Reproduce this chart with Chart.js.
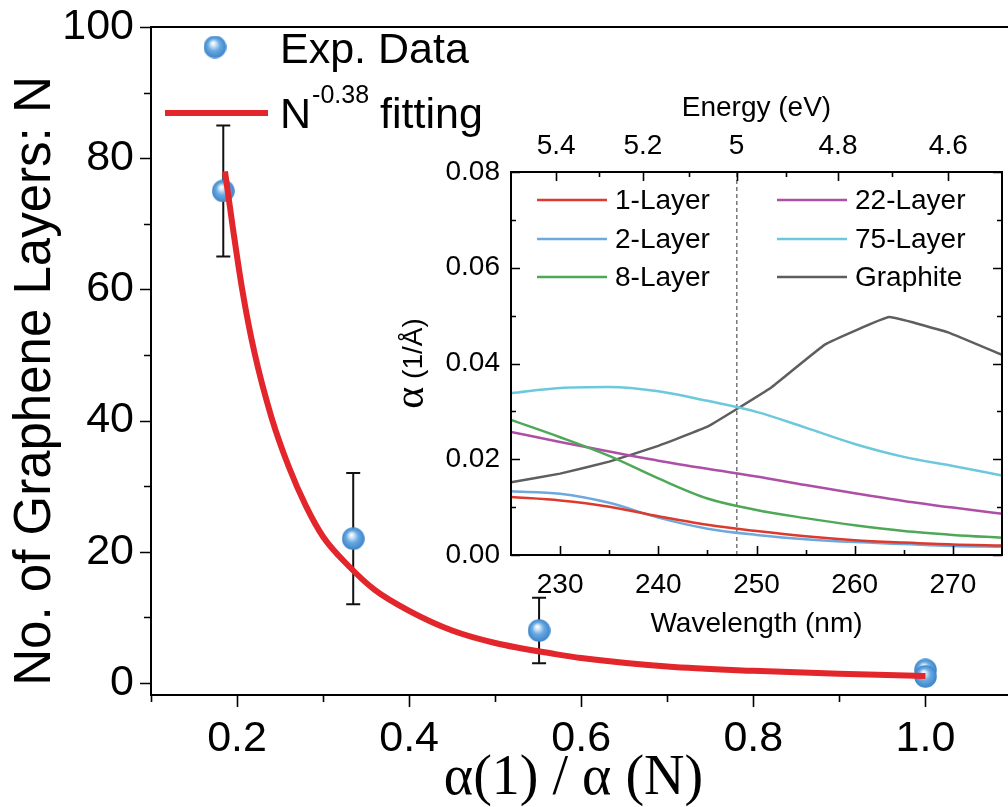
<!DOCTYPE html>
<html>
<head>
<meta charset="utf-8">
<script src="https://cdn.jsdelivr.net/npm/chart.js@4.4.1/dist/chart.umd.min.js"></script>
<style>
  html, body { margin:0; padding:0; background:#fff; }
  #wrap { position:relative; width:1008px; height:807px; overflow:hidden; }
  #main { position:absolute; left:0; top:0; }
  #inset { position:absolute; left:380px; top:80px; }
</style>
</head>
<body>
<div id="wrap">
  <canvas id="main" width="1008" height="807"></canvas>
  <canvas id="inset" width="628" height="570"></canvas>
</div>
<script>
/* main plot data */
const ratio = [0.184, 0.335, 0.551, 1.0, 1.0];
const layers = [75, 22, 8, 2, 1];
const layersErr = [10, 10, 5, 0, 0];

const fitRatio  = [0.186, 0.195, 0.206, 0.22, 0.24, 0.26, 0.28, 0.30, 0.33, 0.36, 0.40, 0.45, 0.50, 0.57, 0.60, 0.70, 0.80, 0.90, 1.00];
const fitLayers = [78, 69.5, 60, 50.5, 40.5, 33, 27, 22.3, 17.8, 14.2, 11.0, 8.0, 6.1, 4.4, 3.8, 2.5, 1.85, 1.4, 1.05];

const xMajor = [0.2, 0.4, 0.6, 0.8, 1.0];
const xMinor = [0.1, 0.3, 0.5, 0.7, 0.9];
const yMajor = [0, 20, 40, 60, 80, 100];
const yMinor = [10, 30, 50, 70, 90];

/* inset data */
const wavelength = [225, 230, 235, 240, 245, 250, 255, 260, 265, 270, 275];
const alpha1L  = [0.0121, 0.0114, 0.0101, 0.0081, 0.0063, 0.0050, 0.0039, 0.0031, 0.0026, 0.0022, 0.0020];
const alpha2L  = [0.0133, 0.0128, 0.0109, 0.0078, 0.0055, 0.0042, 0.0033, 0.0027, 0.0023, 0.0019, 0.0017];
const alpha8L  = [0.0282, 0.0246, 0.0207, 0.0160, 0.0118, 0.0094, 0.0077, 0.0062, 0.0050, 0.0042, 0.0036];
const alpha22L = [0.0257, 0.0236, 0.0216, 0.0197, 0.0180, 0.0164, 0.0146, 0.0129, 0.0113, 0.0099, 0.0086];
const alpha75L = [0.0338, 0.0349, 0.0351, 0.0342, 0.0322, 0.0299, 0.0266, 0.0232, 0.0205, 0.0186, 0.0166];
const graphiteWl = [225, 230, 235, 240, 245, 248, 251.5, 257, 263.5, 269.5, 275];
const alphaGraphite = [0.0152, 0.0170, 0.0195, 0.0228, 0.0268, 0.0305, 0.0350, 0.0440, 0.0497, 0.0465, 0.0418];

const wlMajor = [230, 240, 250, 260, 270];
const wlMinor = [235, 245, 255, 265];
const alphaMajor = [0, 0.02, 0.04, 0.06, 0.08];
const alphaMinor = [0.01, 0.03, 0.05, 0.07];
const energyMajor = [5.4, 5.2, 5.0, 4.8, 4.6];
const energyLabels = ["5.4", "5.2", "5", "4.8", "4.6"];
const energyMinor = [5.3, 5.1, 4.9, 4.7];
const cutWl = 248;   // 5 eV marker
const HC = 1239.84;  // eV*nm

const SANS = "'Liberation Sans', Arial, sans-serif";
const SERIF = "'Liberation Serif', 'Times New Roman', serif";
Chart.defaults.color = "#000";
Chart.defaults.font.family = SANS;

/* shaded sphere marker */
const sphere = document.createElement("canvas");
sphere.width = 23; sphere.height = 23;
(function(){
  const c = sphere.getContext("2d");
  const g = c.createRadialGradient(9.5, 7.5, 0.5, 11.5, 11.5, 11.5);
  g.addColorStop(0, "#ffffff");
  g.addColorStop(0.18, "#cfe5f8");
  g.addColorStop(0.5, "#6aaae2");
  g.addColorStop(1, "#3a82c8");
  c.fillStyle = g;
  c.beginPath(); c.arc(11.5, 11.5, 11.3, 0, Math.PI*2); c.fill();
})();

function marks(ctx, scale, values, len, side, out){
  const a = scale.chart.chartArea;
  const d = out ? -1 : 1;
  ctx.beginPath();
  values.forEach(v=>{
    const p = Math.round(scale.getPixelForValue(v)) + 0.5;
    if(side === "left"){ ctx.moveTo(a.left, p); ctx.lineTo(a.left + d*len, p); }
    if(side === "right"){ ctx.moveTo(a.right, p); ctx.lineTo(a.right - d*len, p); }
    if(side === "bottom"){ ctx.moveTo(p, a.bottom); ctx.lineTo(p, a.bottom - d*len); }
    if(side === "top"){ ctx.moveTo(p, a.top); ctx.lineTo(p, a.top + d*len); }
  });
  ctx.stroke();
}
function noPad(s){ s.paddingTop = 0; s.paddingBottom = 0; s.paddingLeft = 0; s.paddingRight = 0; }

/* MAIN CHART */
const mainDecor = {
  id: "mainDecor",
  beforeDatasetsDraw(chart){
    const {ctx, scales:{x, y}} = chart;
    ctx.save();
    ctx.strokeStyle = "#111"; ctx.lineWidth = 2;
    ratio.forEach((r, i)=>{
      if(!layersErr[i]) return;
      const px = x.getPixelForValue(r);
      const t = y.getPixelForValue(layers[i] + layersErr[i]);
      const b = y.getPixelForValue(layers[i] - layersErr[i]);
      ctx.beginPath();
      ctx.moveTo(px, t); ctx.lineTo(px, b);
      ctx.moveTo(px - 7, t); ctx.lineTo(px + 7, t);
      ctx.moveTo(px - 7, b); ctx.lineTo(px + 7, b);
      ctx.stroke();
    });
    ctx.restore();
  },
  afterDraw(chart){
    const {ctx, chartArea:a, scales:{x, y}} = chart;
    ctx.save();
    ctx.strokeStyle = "#000"; ctx.lineWidth = 2;
    // frame runs on past the right edge of the picture
    ctx.beginPath();
    ctx.moveTo(a.left - 1, a.top); ctx.lineTo(chart.width, a.top);
    ctx.moveTo(a.right - 1, a.bottom); ctx.lineTo(chart.width, a.bottom);
    ctx.stroke();
    ctx.lineWidth = 1.6;
    marks(ctx, y, yMajor, 11, "left", true);
    marks(ctx, y, yMinor, 7, "left", true);
    marks(ctx, x, xMajor, 12, "bottom", true);
    marks(ctx, x, xMinor, 7, "bottom", true);

    // y title
    ctx.fillStyle = "#000";
    ctx.save();
    ctx.translate(36, 381);
    ctx.rotate(-Math.PI/2);
    ctx.font = "51px " + SANS;
    ctx.textAlign = "center"; ctx.textBaseline = "middle";
    ctx.fillText("No. of Graphene Layers: N", 0, 0);
    ctx.restore();

    // legend
    ctx.drawImage(sphere, 215 - 11.5, 47 - 11.5);
    ctx.textBaseline = "alphabetic";
    ctx.font = "43px " + SANS;
    ctx.fillText("Exp. Data", 280, 63);
    ctx.strokeStyle = "#e2262b"; ctx.lineWidth = 6;
    ctx.beginPath(); ctx.moveTo(165, 113); ctx.lineTo(268, 113); ctx.stroke();
    ctx.fillText("N", 280, 128);
    const w = ctx.measureText("N").width;
    ctx.font = "25px " + SANS;
    ctx.fillText("-0.38", 280 + w + 1, 103);
    const w2 = ctx.measureText("-0.38").width;
    ctx.font = "43px " + SANS;
    ctx.fillText("fitting", 280 + w + w2 + 12, 128);
    ctx.restore();
  }
};

new Chart(document.getElementById("main"), {
  type: "line",
  data: {
    datasets: [
      {
        label: "fit",
        data: fitRatio.map((r, i)=>({x:r, y:fitLayers[i]})),
        borderColor: "#e2262b", borderWidth: 6,
        pointRadius: 0, cubicInterpolationMode: "monotone", fill: false
      },
      {
        label: "Exp. Data",
        data: ratio.map((r, i)=>({x:r, y:layers[i]})),
        showLine: false, pointStyle: sphere, pointRadius: 11
      }
    ]
  },
  options: {
    responsive: false, animation: false, devicePixelRatio: 1, events: [],
    layout: { padding: { top: 27, right: 0, left: 0, bottom: 0 } },
    plugins: { legend: { display: false }, tooltip: { enabled: false } },
    scales: {
      x: {
        type: "linear", min: 0.1, max: 1.082,
        afterFit(s){ s.height = 112; noPad(s); },
        afterBuildTicks(s){ s.ticks = xMajor.map(v=>({value:v})); },
        grid: { drawOnChartArea: false, drawTicks: false },
        border: { color: "#000", width: 2 },
        ticks: { autoSkip: false, maxRotation: 0, padding: 18, font: { size: 43 },
                 callback: v => v.toFixed(1) },
        title: { display: true, text: "α(1) / α (N)", font: { size: 56, family: SERIF, lineHeight: 1 },
                 padding: { top: 0, bottom: 0 } }
      },
      y: {
        type: "linear", min: -1.83, max: 100,
        afterFit(s){ s.width = 151; noPad(s); },
        afterBuildTicks(s){ s.ticks = yMajor.map(v=>({value:v})); },
        grid: { drawOnChartArea: false, drawTicks: false },
        border: { color: "#000", width: 2 },
        ticks: { autoSkip: false, padding: 17, font: { size: 43 } }
      }
    }
  },
  plugins: [mainDecor]
});

/* INSET CHART */
const insetSeries = [
  { label: "1-Layer",  x: wavelength, y: alpha1L,  color: "#dc3a2c" },
  { label: "2-Layer",  x: wavelength, y: alpha2L,  color: "#6ea8dc" },
  { label: "8-Layer",  x: wavelength, y: alpha8L,  color: "#4fa858" },
  { label: "22-Layer", x: wavelength, y: alpha22L, color: "#ae4fa6" },
  { label: "75-Layer", x: wavelength, y: alpha75L, color: "#6cc8dc" },
  { label: "Graphite", x: graphiteWl, y: alphaGraphite, color: "#5e5e5e" }
];

const insetDecor = {
  id: "insetDecor",
  afterDraw(chart){
    const {ctx, chartArea:a, scales:{x, xTop, y}} = chart;
    ctx.save();
    ctx.strokeStyle = "#000"; ctx.lineWidth = 2;
    ctx.strokeRect(a.left, a.top, a.right - a.left, a.bottom - a.top);
    ctx.lineWidth = 1.6;
    marks(ctx, y, alphaMajor, 9, "left", false);
    marks(ctx, y, alphaMinor, 5, "left", false);
    marks(ctx, y, alphaMajor, 9, "right", false);
    marks(ctx, y, alphaMinor, 5, "right", false);
    marks(ctx, x, wlMajor, 9, "bottom", false);
    marks(ctx, x, wlMinor, 5, "bottom", false);
    marks(ctx, xTop, energyMajor.map(e=>HC/e), 9, "top", false);
    marks(ctx, xTop, energyMinor.map(e=>HC/e), 5, "top", false);

    // y title: serif alpha + sans unit
    ctx.fillStyle = "#000";
    ctx.save();
    ctx.translate(32, (a.top + a.bottom) / 2);
    ctx.rotate(-Math.PI/2);
    ctx.textBaseline = "alphabetic";
    ctx.font = "42px " + SERIF;
    const wa = ctx.measureText("α").width;
    ctx.font = "28px " + SANS;
    const wu = ctx.measureText(" (1/Å)").width;
    const x0 = -(wa + wu) / 2;
    ctx.font = "42px " + SERIF;
    ctx.fillText("α", x0, 11);
    ctx.font = "28px " + SANS;
    ctx.fillText(" (1/Å)", x0 + wa, 10);
    ctx.restore();

    // legend, two columns
    ctx.font = "28px " + SANS;
    ctx.textBaseline = "middle";
    const cols = [157, 397], rows = [120, 159, 197];
    chart.data.datasets.forEach((ds, i)=>{
      if(ds.label === "cut") return;
      const cx = cols[Math.floor(i / 3)], cy = rows[i % 3];
      ctx.strokeStyle = ds.borderColor; ctx.lineWidth = 2.5;
      ctx.beginPath(); ctx.moveTo(cx, cy); ctx.lineTo(cx + 70, cy); ctx.stroke();
      ctx.fillStyle = "#000";
      ctx.fillText(ds.label, cx + 78, cy + 1);
    });
    ctx.restore();
  }
};

const insetDatasets = insetSeries.map(s=>({
  label: s.label,
  data: s.x.map((w, i)=>({x:w, y:s.y[i]})),
  borderColor: s.color, borderWidth: 2.5, pointRadius: 0,
  tension: s.label === "Graphite" ? 0.08 : 0,
  cubicInterpolationMode: s.label === "Graphite" ? "default" : "monotone",
  fill: false
}));
insetDatasets.push({
  label: "cut",
  data: [{x:cutWl, y:0}, {x:cutWl, y:0.08}],
  borderColor: "#333", borderWidth: 1, borderDash: [4, 3], pointRadius: 0
});

new Chart(document.getElementById("inset"), {
  type: "line",
  data: { datasets: insetDatasets },
  options: {
    responsive: false, animation: false, devicePixelRatio: 1, events: [],
    layout: { padding: { top: 0, right: 6, left: 0, bottom: 0 } },
    plugins: { legend: { display: false }, tooltip: { enabled: false } },
    scales: {
      x: {
        type: "linear", position: "bottom", min: 225, max: 275,
        afterFit(s){ s.height = 95; noPad(s); },
        afterBuildTicks(s){ s.ticks = wlMajor.map(v=>({value:v})); },
        grid: { drawOnChartArea: false, drawTicks: false },
        border: { display: false },
        ticks: { autoSkip: false, maxRotation: 0, padding: 13, font: { size: 28 } },
        title: { display: true, text: "Wavelength (nm)", font: { size: 28 }, padding: { top: 0, bottom: 9 } }
      },
      xTop: {
        type: "linear", position: "top", min: 225, max: 275,
        afterFit(s){ s.height = 92; noPad(s); },
        afterBuildTicks(s){ s.ticks = energyMajor.map(e=>({value:HC/e})); },
        grid: { drawOnChartArea: false, drawTicks: false },
        border: { display: false },
        ticks: { autoSkip: false, maxRotation: 0, padding: 9, font: { size: 28 },
                 callback: (v, i) => energyLabels[i] },
        title: { display: true, text: "Energy (eV)", font: { size: 28 }, padding: { top: 11, bottom: 0 } }
      },
      y: {
        type: "linear", min: 0, max: 0.08,
        afterFit(s){ s.width = 131; noPad(s); },
        afterBuildTicks(s){ s.ticks = alphaMajor.map(v=>({value:v})); },
        grid: { drawOnChartArea: false, drawTicks: false },
        border: { display: false },
        ticks: { autoSkip: false, padding: 11, font: { size: 28 }, callback: v => v.toFixed(2) }
      }
    }
  },
  plugins: [insetDecor]
});
</script>
</body>
</html>
